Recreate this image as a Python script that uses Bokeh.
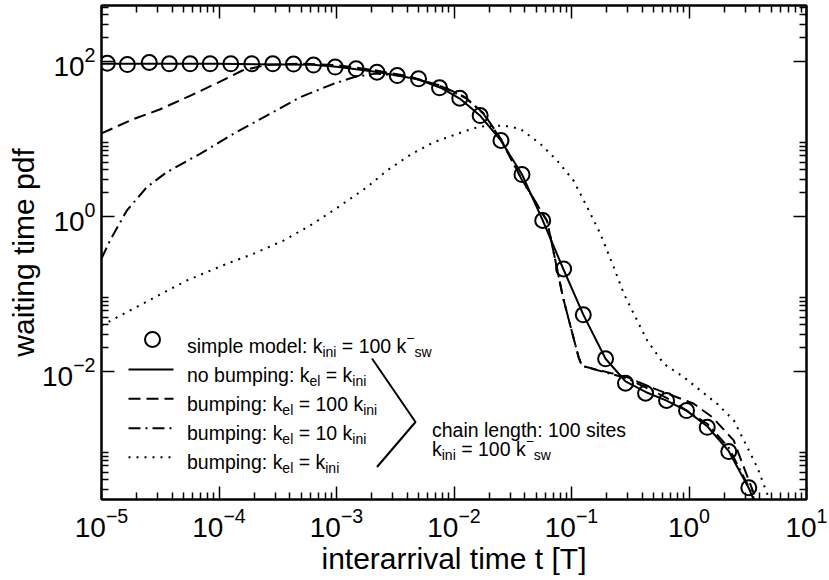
from bokeh.plotting import figure
from bokeh.models import FixedTicker, LogAxis, Label, Range1d, CustomJSTickFormatter, Title
from bokeh.embed import file_html
from bokeh.resources import INLINE

FONT = "Liberation Sans"

# ---------------- data ----------------
simple_t = [1.12e-5, 1.66e-5, 2.55e-5, 3.78e-5, 5.68e-5, 8.41e-5, 1.26e-4, 1.90e-4,
            2.87e-4, 4.31e-4, 6.37e-4, 9.75e-4, 1.47e-3, 2.21e-3, 3.29e-3, 4.99e-3,
            7.53e-3, 1.12e-2, 1.67e-2, 2.51e-2, 3.79e-2, 5.69e-2, 8.57e-2, 0.126,
            0.195, 0.288, 0.427, 0.644, 0.953, 1.43, 2.18, 3.23]
simple_p = [94.2, 90.5, 96.2, 92.5, 92.5, 92.5, 92.5, 92.5,
            92.5, 92.0, 89.3, 84.1, 79.8, 72.1, 65.3, 59.3,
            45.4, 33.3, 19.9, 9.48, 3.45, 0.881, 0.209, 0.0535,
            0.01445, 0.0070, 0.0052, 0.00419, 0.00311, 0.00189, 0.00092, 0.000313]

nobump_t = [1.0e-5, 1e-4, 6.3e-4, 1e-3, 2e-3, 3.2e-3, 5e-3, 7.9e-3, 1.12e-2, 1.66e-2,
            2.5e-2, 3.8e-2, 5.7e-2, 8.5e-2, 0.126, 0.195, 0.288, 0.427, 0.644, 0.953,
            1.43, 2.18, 3.23, 3.75]
nobump_p = [93.0, 92.5, 90.0, 85.0, 74.0, 66.0, 58.0, 44.7, 33.0, 20.0,
            9.5, 3.45, 0.88, 0.21, 0.0537, 0.0145, 0.0074, 0.0054, 0.00417, 0.0031,
            0.00195, 0.00093, 0.00031, 0.00018]

bump100_t = [1e-5, 1.78e-5, 3.16e-5, 5.6e-5, 1e-4, 1.58e-4, 2.5e-4, 5e-4, 1e-3, 2e-3,
             4e-3, 7.9e-3, 1.26e-2, 1.78e-2, 2.5e-2, 3.8e-2, 6.2e-2, 8.5e-2, 0.115, 0.123,
             0.297, 0.5, 1.09, 1.58, 2.4, 3.66, 3.8]
bump100_p = [11.7, 17.4, 24.0, 35.5, 53.7, 75.9, 89.0, 93.0, 89.0, 77.6,
             64.6, 47.9, 33.9, 21.4, 10.0, 2.95, 0.87, 0.087, 0.0151, 0.0117,
             0.0084, 0.0060, 0.00383, 0.00255, 0.00128, 0.000237, 0.00018]

bump10_t = [1e-5, 1.18e-5, 1.64e-5, 2.43e-5, 3.59e-5, 6.9e-5, 1.33e-4, 2.55e-4, 4.91e-4,
            9.42e-4, 1.40e-3, 2.14e-3, 4e-3, 7.9e-3, 1.26e-2, 1.78e-2, 2.5e-2, 3.8e-2,
            6.2e-2, 8.5e-2, 0.115, 0.123, 0.297, 0.65, 1.43, 2.19, 3.47, 3.7]
bump10_p = [0.284, 0.485, 1.18, 2.37, 3.70, 6.38, 11.6, 19.9, 34.3,
            51.1, 62.2, 69.2, 64.0, 47.0, 33.5, 21.0, 9.8, 2.9,
            0.87, 0.087, 0.0151, 0.0117, 0.0081, 0.0045, 0.0021, 0.00102, 0.00026, 0.00018]

bump1_t = [1e-5, 2.86e-5, 5.32e-5, 1.16e-4, 1.96e-4, 3.54e-4, 5.97e-4, 9.42e-4, 1.82e-3,
           2.69e-3, 4.39e-3, 6.7e-3, 1.29e-2, 1.67e-2, 2.64e-2, 3.67e-2, 5.43e-2, 7.53e-2,
           0.104, 0.136, 0.176, 0.229, 0.279, 0.339, 0.441, 0.61, 0.904, 1.25, 1.74,
           2.41, 3.13, 3.81, 4.63, 5.0]
bump1_p = [0.0389, 0.0902, 0.148, 0.243, 0.327, 0.485, 0.760, 1.19, 2.37,
           3.89, 6.4, 9.0, 12.8, 14.4, 14.8, 13.4, 8.59, 5.24,
           2.89, 1.31, 0.593, 0.22, 0.0998, 0.0551, 0.0249, 0.01245, 0.00838, 0.00564, 0.00379,
           0.00231, 0.00105, 0.000577, 0.000262, 0.00018]

x_major = [1e-5, 1e-4, 1e-3, 1e-2, 1e-1, 1e0, 1e1]
y_major = [1e-2, 1e0, 1e2]
x_minor = [k * 10.0 ** n for n in range(-5, 1) for k in range(2, 10)]
y_minor = [k * 10.0 ** n for n in (-4, -2, 0, 2) for k in range(2, 10)]

x_title = "interarrival time t [T]"
y_title = "waiting time pdf"

# ---------------- layout ----------------
CW, CH = 829, 580
FL, FR, FT, FB = 101, 806, 5, 499          # frame edges on the canvas
XLOG = (-5.0, 1.0)
YLOG = (-3.655, 2.719)

p = figure(width=CW, height=CH, x_axis_type="log", y_axis_type="log",
           x_range=Range1d(10 ** XLOG[0], 10 ** XLOG[1]),
           y_range=Range1d(10 ** YLOG[0], 10 ** YLOG[1]),
           output_backend="svg", toolbar_location=None,
           min_border_left=FL, min_border_right=CW - FR,
           min_border_top=FT, min_border_bottom=CH - FB)
p.grid.visible = False
p.outline_line_color = "black"
p.outline_line_width = 2
p.background_fill_color = "white"
p.border_fill_color = "white"


def style_axis(ax, labels=True):
    ax.axis_line_width = 2
    ax.axis_line_color = "black"
    ax.major_tick_in = 13
    ax.major_tick_out = 0
    ax.minor_tick_in = 7
    ax.minor_tick_out = 0
    ax.major_tick_line_width = 1.5
    ax.minor_tick_line_width = 1.5
    ax.major_tick_line_color = "black"
    ax.minor_tick_line_color = "black"
    ax.major_label_text_font = FONT
    ax.major_label_text_color = "black"
    if labels:
        ax.major_label_text_font_size = "28px"
    else:
        ax.formatter = CustomJSTickFormatter(code="return '';")
        ax.major_label_text_font_size = "1px"
        ax.major_label_standoff = 0


xt = FixedTicker(ticks=x_major, minor_ticks=x_minor)
yt = FixedTicker(ticks=y_major, minor_ticks=y_minor)

p.xaxis.ticker = xt
p.yaxis.ticker = yt
style_axis(p.xaxis[0])
style_axis(p.yaxis[0])
p.xaxis.major_label_standoff = 8
p.yaxis.major_label_standoff = 6
p.xaxis.axis_label = x_title
p.xaxis.axis_label_text_font = FONT
p.xaxis.axis_label_text_font_size = "30px"
p.xaxis.axis_label_text_font_style = "normal"
p.xaxis.axis_label_text_color = "black"
p.xaxis.axis_label_standoff = 2

top = LogAxis(ticker=xt)
right = LogAxis(ticker=yt)
style_axis(top, labels=False)
style_axis(right, labels=False)
p.add_layout(top, "above")
p.add_layout(right, "right")

# y title: a left-side Title so it can sit above the frame's middle, as in the original
p.add_layout(Title(text=y_title, text_font=FONT, text_font_size="30px",
                   text_font_style="normal", text_color="black",
                   align="center", offset=32, standoff=0), "left")

# ---------------- curves ----------------
p.line(nobump_t, nobump_p, line_color="black", line_width=2)
p.line(bump100_t, bump100_p, line_color="black", line_width=2, line_dash="12 6")
p.line(bump10_t, bump10_p, line_color="black", line_width=2, line_dash="12 5 2 5")
p.line(bump1_t, bump1_p, line_color="black", line_width=2, line_dash="2 6")
p.scatter(simple_t, simple_p, marker="circle", size=15, fill_color=None,
          line_color="black", line_width=2)


# ---------------- legend (canvas-pixel layout mapped to data) ----------------
def dx(px):
    return 10 ** (XLOG[0] + (px - FL) / (FR - FL) * (XLOG[1] - XLOG[0]))


def dy(py):
    return 10 ** (YLOG[1] - (py - FT) / (FB - FT) * (YLOG[1] - YLOG[0]))


W = {' ': 278, '\u00a0': 278, ':': 278, '=': 584, '-': 333, '\u2212': 584, '0': 556,
     '1': 556, 'a': 556, 'b': 556, 'c': 500, 'd': 556, 'e': 556, 'g': 556, 'h': 556,
     'i': 222, 'k': 500, 'l': 222, 'm': 833, 'n': 556, 'o': 556, 'p': 556, 's': 500,
     't': 278, 'u': 556, 'w': 722}
MAIN, SMALL = 19.5, 14


def width(s, size):
    return sum(W.get(c, 556) for c in s) * size / 1000.0


def rich(x0, base, parts):
    x = x0
    for txt, kind in parts:
        size = MAIN if kind == "n" else SMALL
        shift = {"n": 0, "sub": 6, "sup": -8}[kind]
        shown = txt.replace(" ", "\u00a0")
        p.add_layout(Label(x=dx(x), y=dy(base + shift), text=shown,
                           text_font=FONT, text_font_size=f"{size}px",
                           text_color="black", text_baseline="alphabetic",
                           text_align="left"))
        x += width(txt, size)


SUB, SUP = "sub", "sup"
legend_rows = [
    [("simple model: k", "n"), ("ini", SUB), (" = 100 k", "n"), ("\u2212", SUP), ("sw", SUB)],
    [("no bumping: k", "n"), ("el", SUB), (" = k", "n"), ("ini", SUB)],
    [("bumping: k", "n"), ("el", SUB), (" = 100 k", "n"), ("ini", SUB)],
    [("bumping: k", "n"), ("el", SUB), (" = 10 k", "n"), ("ini", SUB)],
    [("bumping: k", "n"), ("el", SUB), (" = k", "n"), ("ini", SUB)],
]
baselines = [345, 374, 403.3, 432.7, 461.7]
for parts, b in zip(legend_rows, baselines):
    rich(186.5, b, parts)

# legend samples
p.scatter([dx(152)], [dy(baselines[0] - 6)], marker="circle", size=15, fill_color=None,
          line_color="black", line_width=2)
dashes = [None, "12 6", "12 5 2 5", "2 6"]
for b, d in zip(baselines[1:], dashes):
    kw = {} if d is None else {"line_dash": d}
    p.line([dx(128), dx(173)], [dy(b - 5), dy(b - 5)], line_color="black", line_width=2, **kw)

# bracket
p.line([dx(371.5), dx(415), dx(376.5)], [dy(358), dy(421.5), dy(466.5)],
       line_color="black", line_width=2)

rich(431.5, 429, [("chain length: 100 sites", "n")])
rich(431.5, 448.5, [("k", "n"), ("ini", SUB), (" = 100 k", "n"), ("\u2212", SUP), ("sw", SUB)])

open("out.html", "w").write(file_html(p, INLINE))
